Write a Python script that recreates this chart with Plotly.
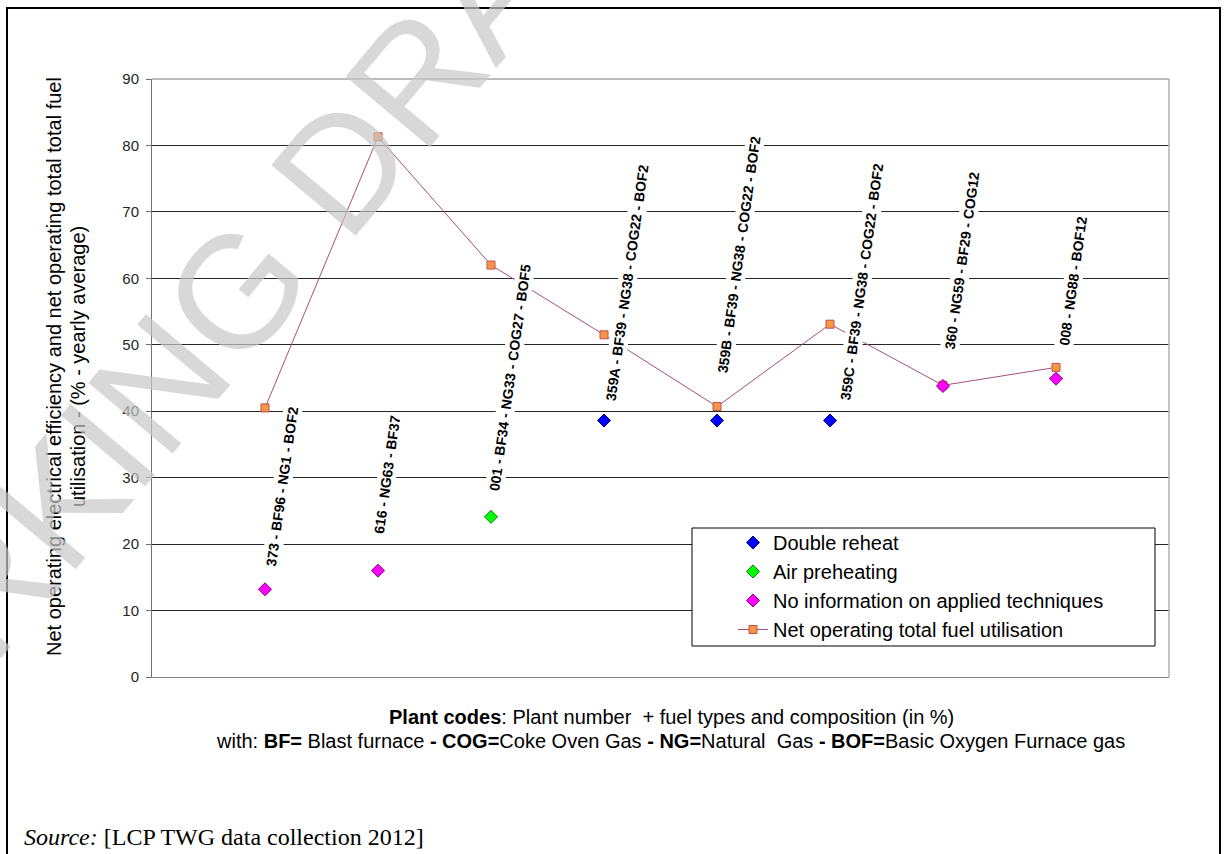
import plotly.graph_objects as go

# ---------------- data ----------------
plant_codes = [
    "373 - BF96 - NG1 - BOF2",
    "616 - NG63 - BF37",
    "001 - BF34 - NG33 - COG27 - BOF5",
    "359A - BF39 - NG38 - COG22 - BOF2",
    "359B - BF39 - NG38 - COG22 - BOF2",
    "359C - BF39 - NG38 - COG22 - BOF2",
    "360 - NG59 - BF29 - COG12",
    "008 - NG88 - BOF12",
]
double_reheat = [None, None, None, 38.6, 38.6, 38.6, None, None]
air_preheating = [None, None, 24.1, None, None, None, None, None]
no_information = [13.2, 16.0, None, None, None, None, 43.8, 44.9]
total_fuel_utilisation = [40.5, 81.3, 62.0, 51.5, 40.7, 53.1, 43.9, 46.6]
y_ticks = [0, 10, 20, 30, 40, 50, 60, 70, 80, 90]

# label placement (layout only): centre height (axis units) and pixel shift
label_center_y = [28.6, 30.4, 45.0, 59.3, 63.5, 59.4, 62.6, 59.6]
label_xshift = [17, 9, 19, 23, 22, 32, 19, 17]

x_pos = list(range(1, len(plant_codes) + 1))

FONT = "Liberation Sans, Arial, sans-serif"

# plot-area geometry in pixels (for paper conversions)
W, H = 1226, 854
L, R, T, B = 152, 57, 79, 177
PW, PH = W - L - R, H - T - B


def px(xp):
    return (xp - L) / PW


def py(yp):
    return (H - B - yp) / PH


fig = go.Figure()

fig.add_trace(go.Scatter(
    x=x_pos, y=total_fuel_utilisation, mode="lines+markers",
    name="Net operating total fuel utilisation", legendrank=4,
    line=dict(color="#A4507A", width=1),
    marker=dict(symbol="square", size=8, color="#F79646",
                line=dict(color="#C0504D", width=1)),
))
fig.add_trace(go.Scatter(
    x=x_pos, y=double_reheat, mode="markers", name="Double reheat", legendrank=1,
    marker=dict(symbol="diamond", size=10, color="#0000FF",
                line=dict(color="#000080", width=1)),
))
fig.add_trace(go.Scatter(
    x=x_pos, y=air_preheating, mode="markers", name="Air preheating", legendrank=2,
    marker=dict(symbol="diamond", size=10, color="#00FF00",
                line=dict(color="#008000", width=1)),
))
fig.add_trace(go.Scatter(
    x=x_pos, y=no_information, mode="markers",
    name="No information on applied techniques", legendrank=3,
    marker=dict(symbol="diamond", size=10, color="#FF00FF",
                line=dict(color="#800080", width=1)),
))

annotations = []
# plant code labels
for i, code in enumerate(plant_codes):
    annotations.append(dict(
        x=x_pos[i], y=label_center_y[i], xref="x", yref="y",
        xshift=label_xshift[i], text=f"<b>{code}</b>", showarrow=False,
        textangle=-82, xanchor="center", yanchor="middle",
        bgcolor="white", borderpad=1,
        font=dict(family=FONT, size=14, color="black"),
    ))

# y-axis title (two lines)
annotations.append(dict(
    x=px(54), y=py(367), xref="paper", yref="paper",
    text="Net operating electrical efficiency and net operating total total fuel",
    showarrow=False, textangle=-90, xanchor="center", yanchor="middle",
    font=dict(family=FONT, size=20, color="black"),
))
annotations.append(dict(
    x=px(78), y=py(367), xref="paper", yref="paper",
    text="utilisation - (% - yearly average)",
    showarrow=False, textangle=-90, xanchor="center", yanchor="middle",
    font=dict(family=FONT, size=20, color="black"),
))
# x-axis title lines
annotations.append(dict(
    x=px(671), y=py(717), xref="paper", yref="paper",
    text="<b>Plant codes</b>: Plant number  + fuel types and composition (in %)",
    showarrow=False, xanchor="center", yanchor="middle",
    font=dict(family=FONT, size=20, color="black"),
))
annotations.append(dict(
    x=px(670), y=py(741), xref="paper", yref="paper",
    text="with: <b>BF=</b> Blast furnace <b>- COG=</b>Coke Oven Gas <b>- NG=</b>Natural  Gas "
         "<b>- BOF=</b>Basic Oxygen Furnace gas",
    showarrow=False, xanchor="center", yanchor="middle",
    font=dict(family=FONT, size=20, color="black"),
))
# source line
annotations.append(dict(
    x=px(22), y=py(837), xref="paper", yref="paper",
    text="<i>Source:</i> [LCP TWG data collection 2012]",
    showarrow=False, xanchor="left", yanchor="middle",
    font=dict(family="Liberation Serif, Times New Roman, serif", size=24, color="black"),
))
# watermark
annotations.append(dict(
    x=px(210), y=py(322), xref="paper", yref="paper",
    text="WORKING DRAFT", showarrow=False, textangle=-50,
    xanchor="center", yanchor="middle",
    font=dict(family=FONT, size=160, color="rgba(200,200,200,0.7)"),
))

shapes = [
    # outer frame
    dict(type="rect", xref="paper", yref="paper",
         x0=px(7), x1=px(1220), y0=py(862), y1=py(8),
         line=dict(color="black", width=2), fillcolor="rgba(0,0,0,0)", layer="above"),
    # plot-area border (top and right)
    dict(type="line", xref="paper", yref="paper", x0=0, x1=1, y0=1, y1=1,
         line=dict(color="#A6A6A6", width=1.5), layer="above"),
    dict(type="line", xref="paper", yref="paper", x0=1, x1=1, y0=0, y1=1,
         line=dict(color="#B0B0B0", width=1.5), layer="above"),
    # legend box
    dict(type="rect", xref="paper", yref="paper",
         x0=px(692), x1=px(1155), y0=py(646), y1=py(528),
         line=dict(color="black", width=1), fillcolor="white", layer="above"),
]

fig.update_layout(
    width=W, height=H,
    margin=dict(l=L, r=R, t=T, b=B),
    paper_bgcolor="white", plot_bgcolor="white",
    showlegend=True,
    legend=dict(
        x=px(733), y=py(523), xanchor="left", yanchor="top",
        bgcolor="rgba(0,0,0,0)", borderwidth=0,
        font=dict(family=FONT, size=20, color="black"),
        traceorder="normal", itemwidth=30,
    ),
    xaxis=dict(range=[0, 9], showgrid=False, zeroline=False,
               showticklabels=False, ticks="", showline=True,
               linecolor="#808080", linewidth=1, fixedrange=True),
    yaxis=dict(range=[0, 90], tickvals=y_ticks, showgrid=True,
               gridcolor="#262626", gridwidth=1, zeroline=False,
               showline=True, linecolor="#707070", linewidth=1,
               ticks="outside", ticklen=5, tickcolor="#707070",
               ticklabelstandoff=4,
               tickfont=dict(family=FONT, size=15, color="#262626")),
    annotations=annotations,
    shapes=shapes,
)

fig.write_html("out.html", config={"displayModeBar": False},
               post_script="document.body.style.margin='0px';")
